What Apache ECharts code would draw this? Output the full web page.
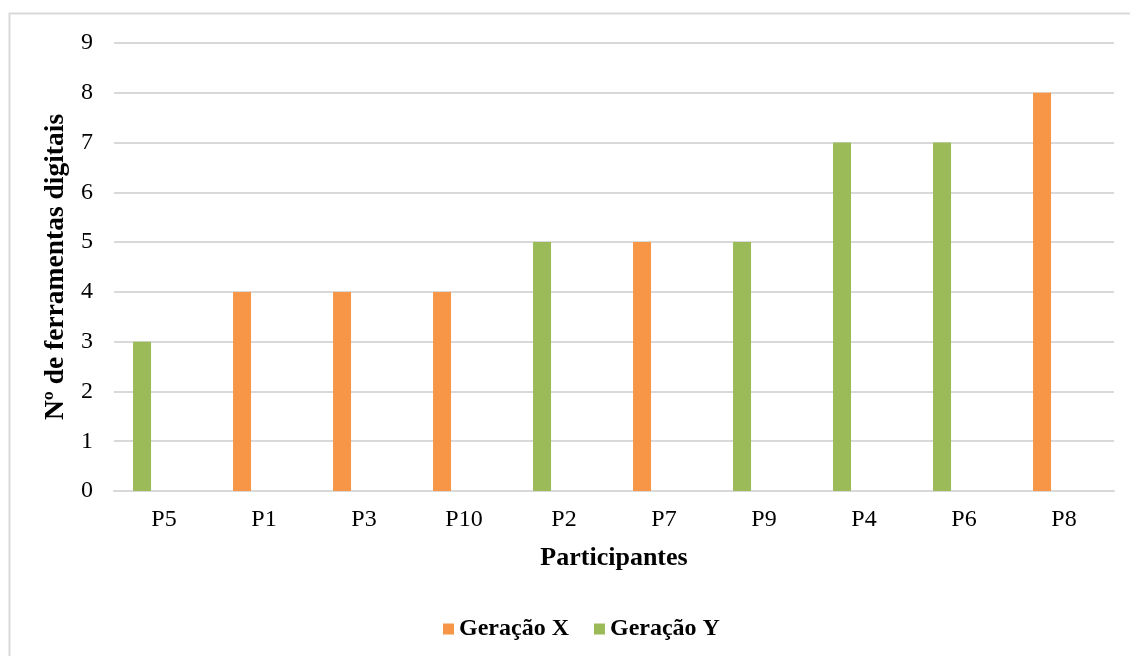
<!DOCTYPE html>
<html>
<head>
<meta charset="utf-8">
<title>Nº de ferramentas digitais por participante</title>
<script src="https://cdn.jsdelivr.net/npm/echarts@6/dist/echarts.min.js"></script>
<style>
  html, body { margin: 0; padding: 0; background: #ffffff; }
  #chart { width: 1130px; height: 656px; }
</style>
</head>
<body>
<div id="chart"></div>
<script>
// Participants, ordered by number of digital tools used
const participantes = ['P5', 'P1', 'P3', 'P10', 'P2', 'P7', 'P9', 'P4', 'P6', 'P8'];
// Each participant belongs to one generation; the other slot stays empty
const geracaoX = [null, 4, 4, 4, null, 5, null, null, null, 8];
const geracaoY = [3, null, null, null, 5, null, 5, 7, 7, null];
// Empty companion slot beside each bar
const vazio = [null, null, null, null, null, null, null, null, null, null];
const yTicks = { min: 0, max: 9, interval: 1 };

const serif = '"Liberation Serif", "DejaVu Serif", serif';
const gridColor = '#d9d9d9';

const chart = echarts.init(document.getElementById('chart'), null, { renderer: 'canvas' });

chart.setOption({
  backgroundColor: '#ffffff',
  animation: false,
  textStyle: { fontFamily: serif, color: '#000' },
  grid: { left: 114, right: 16, top: 43, bottom: 165, containLabel: false },
  legend: {
    data: ['Geração X', 'Geração Y'],
    left: 438,
    top: 612,
    icon: 'rect',
    itemWidth: 11,
    itemHeight: 11,
    itemGap: 25,
    textStyle: { fontFamily: serif, fontSize: 24, fontWeight: 'bold', color: '#000' }
  },
  xAxis: {
    type: 'category',
    data: participantes,
    name: 'Participantes',
    nameLocation: 'middle',
    nameGap: 54,
    nameTextStyle: { fontFamily: serif, fontSize: 26, fontWeight: 'bold', color: '#000' },
    axisLine: { show: true, lineStyle: { color: gridColor, width: 2 } },
    axisTick: { show: false },
    axisLabel: { fontFamily: serif, fontSize: 24, color: '#000', margin: 17 }
  },
  yAxis: {
    type: 'value',
    min: yTicks.min,
    max: yTicks.max,
    interval: yTicks.interval,
    name: 'Nº de ferramentas digitais',
    nameLocation: 'middle',
    nameGap: 43,
    nameTextStyle: { fontFamily: serif, fontSize: 27.5, fontWeight: 'bold', color: '#000' },
    axisLine: { show: false },
    axisTick: { show: false },
    axisLabel: { fontFamily: serif, fontSize: 24, color: '#000', margin: 21 },
    splitLine: { show: true, lineStyle: { color: gridColor, width: 2 } }
  },
  series: [
    {
      name: 'Geração X',
      type: 'bar',
      stack: 'geracao',
      data: geracaoX,
      barWidth: 18,
      barGap: '144%',
      itemStyle: { color: '#F79646' }
    },
    {
      name: 'Geração Y',
      type: 'bar',
      stack: 'geracao',
      data: geracaoY,
      barWidth: 18,
      barGap: '144%',
      itemStyle: { color: '#9BBB59' }
    },
    {
      name: 'vazio',
      type: 'bar',
      stack: 'vazio',
      data: vazio,
      barWidth: 18,
      barGap: '144%',
      silent: true,
      itemStyle: { color: 'transparent' }
    }
  ],
  graphic: [
    // Chart frame: top and left edges
    { type: 'line', silent: true, shape: { x1: 9, y1: 13.5, x2: 1130, y2: 13.5 }, style: { stroke: gridColor, lineWidth: 2 } },
    { type: 'line', silent: true, shape: { x1: 9.5, y1: 13, x2: 9.5, y2: 656 }, style: { stroke: gridColor, lineWidth: 2 } }
  ]
});
</script>
</body>
</html>
